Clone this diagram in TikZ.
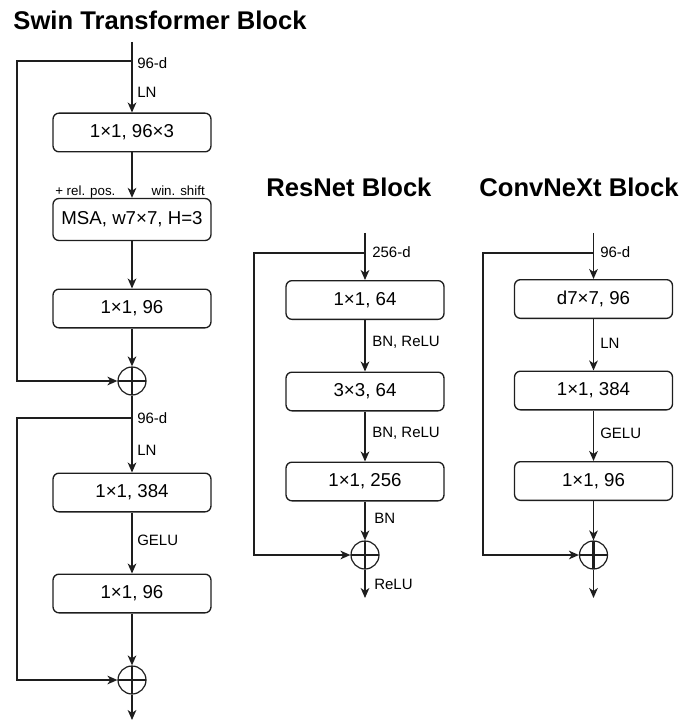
\documentclass[tikz,border=0pt]{standalone}
\usepackage{fontspec}
\setmainfont{Liberation Sans}
\usepackage{xcolor}
\usepackage{tikz}
\usetikzlibrary{arrows.meta, positioning}
\definecolor{edgegray}{RGB}{30, 30, 30}

\tikzset{
    blockbox/.style={draw=edgegray, rounded corners=4.5pt, line width=1pt,
        minimum width=118.5pt, minimum height=29pt, inner sep=0pt,
        font=\fontsize{14}{16}\selectfont},
    flow/.style={edgegray, line width=1.1pt,
        -{Stealth[length=7.5pt, width=6.5pt, inset=2.2pt]}},
    sumnode/.style={circle, draw=edgegray, line width=0.9pt,
        minimum size=21pt, inner sep=0pt,
        path picture={\draw[line width=1.6pt]
            (path picture bounding box.north) -- (path picture bounding box.south)
            (path picture bounding box.west) -- (path picture bounding box.east);}},
    lbl/.style={font=\fontsize{11.25}{13}\selectfont, inner sep=0pt, anchor=west},
    smalllbl/.style={font=\fontsize{10}{12}\selectfont, inner sep=0pt},
    blocktitle/.style={font=\bfseries\fontsize{19.2}{22}\selectfont, inner sep=0pt}
}

\begin{document}
\begin{tikzpicture}[x=0.75pt, y=-0.75pt]
    \useasboundingbox (0,0) rectangle (680,723);

    % SWIN TRANSFORMER BLOCK
    \node[blocktitle] (stitle) at (160,20) {Swin Transformer Block};
    \coordinate (s0) at (132,42);
    \coordinate (sbr1) at (132,61);
    \coordinate (sl1) at (17,61);
    \node[blockbox] (sb1) at (132,132.5) {1×1, 96×3};
    \node[blockbox, minimum height=31.5pt] (sb2) at (132,219.5) {MSA, w7×7, H=3};
    \node[blockbox] (sb3) at (132,308.5) {1×1, 96};
    \node[sumnode] (ssum1) at (132,381) {};
    \coordinate (sbr2) at (132,418);
    \coordinate (sl2) at (17,418);
    \node[blockbox] (sb4) at (132,492.5) {1×1, 384};
    \node[blockbox] (sb5) at (132,593.5) {1×1, 96};
    \node[sumnode] (ssum2) at (132,680) {};
    \coordinate (send) at (132,720);

    \draw[flow] (s0) -- (sb1);
    \draw[flow] (sb1) -- (sb2);
    \draw[flow] (sb2) -- (sb3);
    \draw[flow] (sb3) -- (ssum1);
    \draw[flow] (sbr1) -- (sl1) |- (ssum1);
    \draw[flow] (ssum1) -- (sb4);
    \draw[flow] (sb4) -- (sb5);
    \draw[flow] (sb5) -- (ssum2);
    \draw[flow] (sbr2) -- (sl2) |- (ssum2);
    \draw[flow] (ssum2) -- (send);

    \node[lbl] (sdim1) at (137,63) {96-d};
    \node[lbl] (sln1) at (137,92) {LN};
    \node[smalllbl, anchor=base west] (srelpos) at (55,196) {+ rel. pos.};
    \node[smalllbl, anchor=base east] (sshift) at (205,196) {win. shift};
    \node[lbl] (sdim2) at (137,418) {96-d};
    \node[lbl] (sln2) at (137,450) {LN};
    \node[lbl] (sgelu) at (137,540) {GELU};

    % RESNET BLOCK
    \node[blocktitle] (rtitle) at (349,187) {ResNet Block};
    \coordinate (r0) at (365,233);
    \coordinate (rbr) at (365,253);
    \coordinate (rl) at (254,253);
    \node[blockbox] (rb1) at (365,300) {1×1, 64};
    \node[blockbox] (rb2) at (365,391.5) {3×3, 64};
    \node[blockbox] (rb3) at (365,481.5) {1×1, 256};
    \node[sumnode] (rsum) at (365,555) {};
    \coordinate (rend) at (365,598);

    \draw[flow] (r0) -- (rb1);
    \draw[flow] (rb1) -- (rb2);
    \draw[flow] (rb2) -- (rb3);
    \draw[flow] (rb3) -- (rsum);
    \draw[flow] (rbr) -- (rl) |- (rsum);
    \draw[flow] (rsum) -- (rend);

    \node[lbl] (rdim) at (372,252) {256-d};
    \node[lbl] (rbn1) at (372,342) {BN, ReLU};
    \node[lbl] (rbn2) at (372,433) {BN, ReLU};
    \node[lbl] (rbn3) at (374,518) {BN};
    \node[lbl] (rrelu) at (374,584) {ReLU};

    % CONVNEXT BLOCK
    \node[blocktitle] (ctitle) at (579,187) {ConvNeXt Block};
    \coordinate (c0) at (593.5,233);
    \coordinate (cbr) at (593.5,253);
    \coordinate (cl) at (483,253);
    \node[blockbox] (cb1) at (593.5,299) {d7×7, 96};
    \node[blockbox] (cb2) at (593.5,390.5) {1×1, 384};
    \node[blockbox] (cb3) at (593.5,481) {1×1, 96};
    \node[sumnode] (csum) at (593.5,555) {};
    \coordinate (cend) at (593.5,598);

    \draw[flow] (c0) -- (cb1);
    \draw[flow] (cb1) -- (cb2);
    \draw[flow] (cb2) -- (cb3);
    \draw[flow] (cb3) -- (csum);
    \draw[flow] (cbr) -- (cl) |- (csum);
    \draw[flow] (csum) -- (cend);

    \node[lbl] (cdim) at (600,252) {96-d};
    \node[lbl] (cln) at (600,343) {LN};
    \node[lbl] (cgelu) at (600,433) {GELU};

\end{tikzpicture}
\end{document}
